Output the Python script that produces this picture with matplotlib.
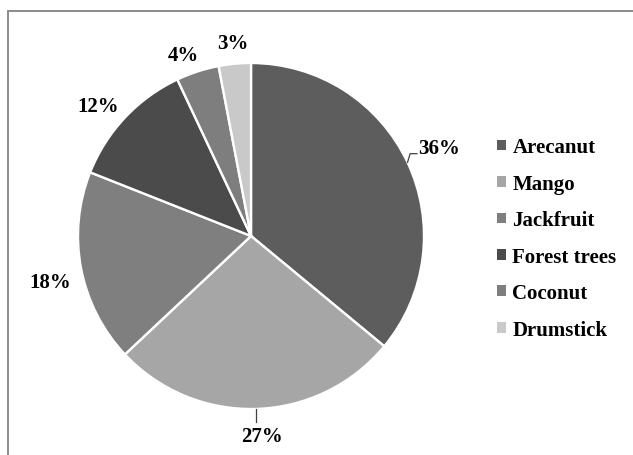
import numpy as np
import matplotlib
matplotlib.use("Agg")
import matplotlib.pyplot as plt
from matplotlib.patches import Rectangle

# dados do gráfico
culturas = ["Arecanut", "Mango", "Jackfruit", "Forest trees", "Coconut", "Drumstick"]
percentuais = [36, 27, 18, 12, 4, 3]
cores = ["#5d5d5d", "#a6a6a6", "#7f7f7f", "#4b4b4b", "#7e7e7e", "#c9c9c9"]

plt.rcParams["font.family"] = ["Liberation Serif", "DejaVu Serif"]
plt.rcParams["font.weight"] = "bold"

W, H = 633, 456
fig = plt.figure(figsize=(W / 100, H / 100), dpi=100)

# moldura cinza em volta da área do gráfico
fig.patches.append(Rectangle((8 / W, -0.05), 1.1, 1 - 12 / H + 0.05,
                             transform=fig.transFigure, fill=False,
                             edgecolor="#8c8c8c", linewidth=1.4))

# eixo da pizza posicionado em pixels (centro ~ (251, 237), raio ~173)
cx, cy, r = 251, 237, 173
ax = fig.add_axes([(cx - r) / W, (H - cy - r) / H, 2 * r / W, 2 * r / H])

wedges, _ = ax.pie(percentuais, colors=cores, startangle=90, counterclock=False,
                   wedgeprops=dict(edgecolor="white", linewidth=1.7))
ax.set_xlim(-1, 1)
ax.set_ylim(-1, 1)

# rótulos de porcentagem: distância radial e pequeno desvio angular (graus)
distancias = [1.20, 1.16, 1.19, 1.16, 1.12, 1.12]
desvios = [0.0, 1.4, 2.1, 3.0, 2.5, 0.0]
for w, p, d, da in zip(wedges, percentuais, distancias, desvios):
    ang = np.deg2rad((w.theta1 + w.theta2) / 2 + da)
    x, y = d * np.cos(ang), d * np.sin(ang)
    ax.text(x, y, f"{p}%", ha="center", va="center", fontsize=15,
            fontweight="bold", clip_on=False)

# linhas de chamada do 36% e do 27%
a0 = np.deg2rad((wedges[0].theta1 + wedges[0].theta2) / 2)
ex, ey = np.cos(a0), np.sin(a0)
ax.plot([ex, ex + 0.015, ex + 0.055], [ey, ey + 0.05, ey + 0.05],
        color="#404040", lw=0.9, clip_on=False)
a1 = np.deg2rad((wedges[1].theta1 + wedges[1].theta2) / 2)
ax.plot([np.cos(a1), np.cos(a1)], [np.sin(a1), np.sin(a1) - 0.075],
        color="#404040", lw=0.9, clip_on=False)

# legenda à direita, com quadrados sem borda branca
marcadores = [Rectangle((0, 0), 1, 1, facecolor=c, edgecolor="none") for c in cores]
fig.legend(marcadores, culturas, loc="upper left",
           bbox_to_anchor=(487 / W, 1 - 128 / H), frameon=False,
           handlelength=0.42, handleheight=0.42,
           handletextpad=0.3, labelspacing=0.79, borderpad=0,
           prop=dict(weight="bold", size=15))

fig.savefig("out.png", dpi=100)
